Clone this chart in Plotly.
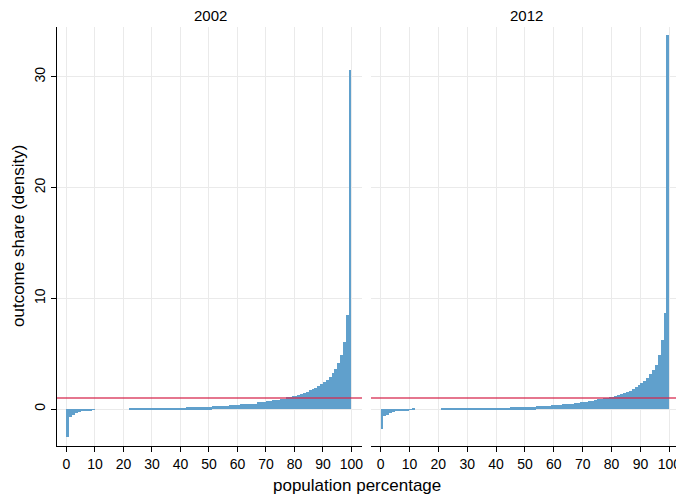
import plotly.graph_objects as go

percentile = list(range(1, 101))

share_2002 = [
    -2.55, -0.74, -0.50, -0.35, -0.25, -0.20, -0.15, -0.12, -0.10, -0.08,
    0, 0, 0, 0, 0, 0, 0, 0, 0, 0,
    0, 0, 0.06, 0.06, 0.06, 0.06, 0.06, 0.06, 0.06, 0.06,
    0.06, 0.06, 0.06, 0.06, 0.06, 0.06, 0.06, 0.06, 0.06, 0.06,
    0.06, 0.06, 0.14, 0.14, 0.14, 0.14, 0.14, 0.14, 0.14, 0.14,
    0.14, 0.24, 0.24, 0.24, 0.24, 0.24, 0.24, 0.33, 0.33, 0.33,
    0.33, 0.44, 0.44, 0.44, 0.44, 0.44, 0.44, 0.60, 0.60, 0.60,
    0.68, 0.68, 0.77, 0.77, 0.85, 0.90, 0.95, 1.05, 1.10, 1.14,
    1.20, 1.23, 1.38, 1.42, 1.50, 1.68, 1.80, 1.92, 2.10, 2.26,
    2.47, 2.65, 2.90, 3.25, 3.60, 4.15, 4.90, 6.05, 8.50, 30.6,
]

share_2012 = [
    -1.80, -0.67, -0.50, -0.40, -0.30, -0.21, -0.21, -0.15, -0.15, -0.10,
    -0.06, 0.06, 0, 0, 0, 0, 0, 0, 0, 0,
    0, 0.05, 0.05, 0.05, 0.05, 0.05, 0.05, 0.05, 0.05, 0.05,
    0.05, 0.05, 0.05, 0.05, 0.05, 0.05, 0.05, 0.05, 0.05, 0.05,
    0.05, 0.05, 0.05, 0.05, 0.05, 0.14, 0.14, 0.14, 0.14, 0.14,
    0.14, 0.14, 0.14, 0.14, 0.24, 0.24, 0.24, 0.24, 0.24, 0.33,
    0.33, 0.33, 0.33, 0.42, 0.42, 0.42, 0.42, 0.53, 0.53, 0.60,
    0.60, 0.60, 0.70, 0.70, 0.80, 0.90, 0.90, 1.00, 1.00, 1.10,
    1.10, 1.20, 1.30, 1.38, 1.45, 1.50, 1.65, 1.80, 1.95, 2.17,
    2.35, 2.50, 2.80, 3.16, 3.55, 4.00, 4.90, 6.20, 8.70, 33.8,
]

panel_titles = ["2002", "2012"]
x_ticks = [0, 10, 20, 30, 40, 50, 60, 70, 80, 90, 100]
y_ticks = [0, 10, 20, 30]
reference_line = 1

# The page body has an 8px default margin; the figure is sized and laid out
# so that the rendered chart lands on the 684x495 window like the reference.
OFF = 8
W, H = 684 - OFF, 495 - OFF
PLOT_L, PLOT_R, PLOT_T, PLOT_B = 57 - OFF, 680 - OFF, 27 - OFF, 446 - OFF
ML, MR, MT, MB = PLOT_L, W - PLOT_R, PLOT_T, H - PLOT_B
PW = W - ML - MR
PH = H - MT - MB
FONT = "Liberation Sans, Arial, Helvetica, sans-serif"
BAR = "rgb(96,160,204)"
RED = "rgba(214,40,78,0.85)"
GRID = "rgb(234,234,234)"

fig = go.Figure()
for i, vals in enumerate([share_2002, share_2012]):
    fig.add_trace(go.Bar(
        x=percentile, y=vals, width=1, offset=-1,
        marker=dict(color=BAR, line=dict(width=0)),
        xaxis="x" if i == 0 else "x2", yaxis="y" if i == 0 else "y2",
        showlegend=False,
    ))

def paper_x(px):
    return (px - OFF - ML) / PW

def paper_y(py):
    return (H - MB - (py - OFF)) / PH

xd1 = [0, paper_x(362)]
xd2 = [paper_x(371), 1]
xr = [-3.3, 103.7]
yr = [-3.34, 34.5]

def xaxis_cfg(domain, anchor):
    return dict(domain=domain, anchor=anchor, range=xr, tickvals=x_ticks,
                ticks="outside", ticklen=5, tickwidth=1, tickcolor="black",
                showline=True, linecolor="black", linewidth=1,
                showgrid=True, gridcolor=GRID, gridwidth=1, zeroline=False,
                automargin=False,
                tickfont=dict(size=14, color="black", family=FONT))

fig.update_layout(
    width=W, height=H,
    margin=dict(l=ML, r=MR, t=MT, b=MB, autoexpand=False),
    plot_bgcolor="white", paper_bgcolor="white",
    bargap=0,
    font=dict(family=FONT, color="black"),
    xaxis=xaxis_cfg(xd1, "y"),
    xaxis2=xaxis_cfg(xd2, "y2"),
    yaxis=dict(domain=[0, 1], range=yr, tickvals=y_ticks, ticks="outside", ticklen=5,
               tickcolor="black", showline=True, linecolor="black", linewidth=1,
               showgrid=True, gridcolor=GRID, zeroline=False, tickangle=-90,
               automargin=False,
               tickfont=dict(size=14, color="black", family=FONT), anchor="x"),
    yaxis2=dict(domain=[0, 1], range=yr, tickvals=y_ticks, showticklabels=False,
                ticks="", showline=False, showgrid=True, gridcolor=GRID,
                zeroline=False, anchor="x2", matches="y", automargin=False),
)

for xref, yref in [("x", "y"), ("x2", "y2")]:
    fig.add_shape(type="line", xref=f"{xref} domain", yref=yref,
                  x0=0, x1=1, y0=reference_line, y1=reference_line,
                  line=dict(color=RED, width=1.5), layer="above")

def label(text, px, py, size, angle=0):
    fig.add_annotation(text=text, x=paper_x(px), y=paper_y(py),
                       xref="paper", yref="paper", showarrow=False,
                       xanchor="center", yanchor="middle", textangle=angle,
                       font=dict(size=size, color="black", family=FONT))

label(panel_titles[0], 210, 15, 15)
label(panel_titles[1], 526, 15, 15)
label("population percentage", 357, 485, 17)
label("outcome share (density)", 18, 236, 17, angle=-90)

fig.write_html("out.html")
